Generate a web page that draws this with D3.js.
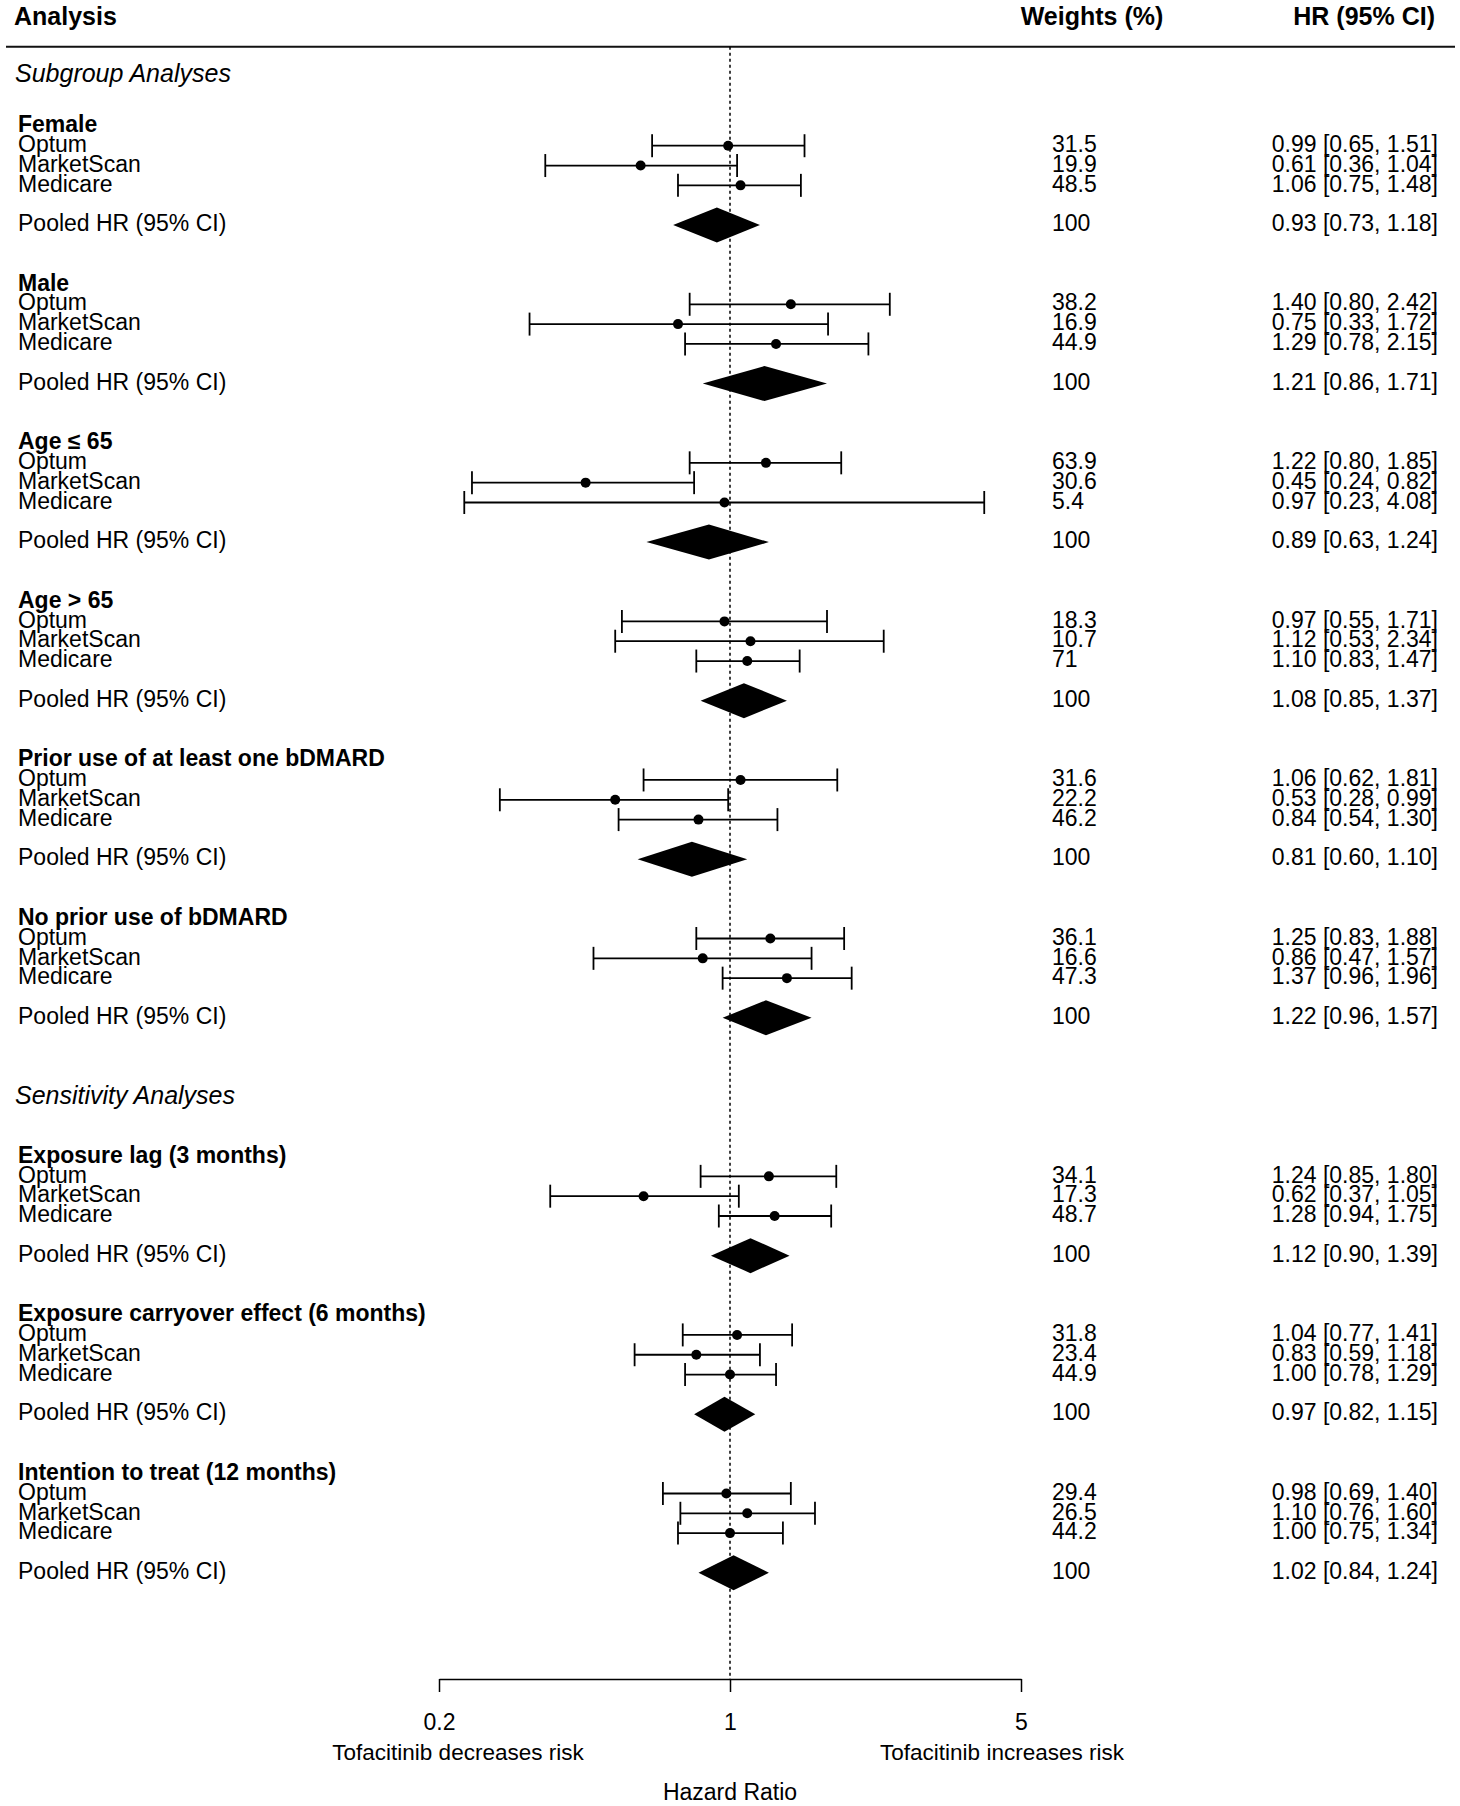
<!DOCTYPE html>
<style>
  body { margin: 0; background: #fff; }
  svg text { font-family: "Liberation Sans", Arial, sans-serif; fill: #000; }
</style>
<body>
<svg id="chart" width="1460" height="1806"></svg>
<script src="https://cdnjs.cloudflare.com/ajax/libs/d3/7.8.5/d3.min.js"></script>
<script>
  const studies = ['Optum', 'MarketScan', 'Medicare']

  const groups = [
    'Female', 'Male', 'Age \u2264 65', 'Age > 65',
    'Prior use of at least one bDMARD', 'No prior use of bDMARD',
    'Exposure lag (3 months)', 'Exposure carryover effect (6 months)',
    'Intention to treat (12 months)'
  ]
  // row of each group header
  const groupRows = [0, 8, 16, 24, 32, 40, 52, 60, 68]

  const sections = ['Subgroup Analyses', 'Sensitivity Analyses']
  const sectionRows = [-2.55, 49]

  // per group: [Optum, MarketScan, Medicare]
  const hr = [
    [0.99, 0.61, 1.06], [1.40, 0.75, 1.29], [1.22, 0.45, 0.97],
    [0.97, 1.12, 1.10], [1.06, 0.53, 0.84], [1.25, 0.86, 1.37],
    [1.24, 0.62, 1.28], [1.04, 0.83, 1.00], [0.98, 1.10, 1.00]
  ]
  const lower = [
    [0.65, 0.36, 0.75], [0.80, 0.33, 0.78], [0.80, 0.24, 0.23],
    [0.55, 0.53, 0.83], [0.62, 0.28, 0.54], [0.83, 0.47, 0.96],
    [0.85, 0.37, 0.94], [0.77, 0.59, 0.78], [0.69, 0.76, 0.75]
  ]
  const upper = [
    [1.51, 1.04, 1.48], [2.42, 1.72, 2.15], [1.85, 0.82, 4.08],
    [1.71, 2.34, 1.47], [1.81, 0.99, 1.30], [1.88, 1.57, 1.96],
    [1.80, 1.05, 1.75], [1.41, 1.18, 1.29], [1.40, 1.60, 1.34]
  ]
  const weights = [
    ['31.5', '19.9', '48.5'], ['38.2', '16.9', '44.9'], ['63.9', '30.6', '5.4'],
    ['18.3', '10.7', '71'], ['31.6', '22.2', '46.2'], ['36.1', '16.6', '47.3'],
    ['34.1', '17.3', '48.7'], ['31.8', '23.4', '44.9'], ['29.4', '26.5', '44.2']
  ]
  const pooledHr = [0.93, 1.21, 0.89, 1.08, 0.81, 1.22, 1.12, 0.97, 1.02]
  const pooledLower = [0.73, 0.86, 0.63, 0.85, 0.60, 0.96, 0.90, 0.82, 0.84]
  const pooledUpper = [1.18, 1.71, 1.24, 1.37, 1.10, 1.57, 1.39, 1.15, 1.24]

  const ticks = [0.2, 1, 5]

  const svg = d3.select('#chart')
  const x = d3.scaleLog().domain([0.2, 5]).range([439, 1021])
  const y = d3.scaleLinear().domain([0, 1]).range([125.9, 145.72])

  const fmt = d3.format('.2f')
  const ciText = (e, l, u) => `${fmt(e)} [${fmt(l)}, ${fmt(u)}]`
  const DY = '.27em'

  // flat study rows
  const rows = []
  groups.forEach((g, gi) => {
    studies.forEach((s, si) => {
      rows.push({ label: s, row: groupRows[gi] + 1 + si, est: hr[gi][si],
        lo: lower[gi][si], hi: upper[gi][si], w: weights[gi][si] })
    })
  })
  const pooled = groups.map((g, gi) => ({ row: groupRows[gi] + 5,
    est: pooledHr[gi], lo: pooledLower[gi], hi: pooledUpper[gi] }))

  const axisY = 1679

  // header
  svg.append('text').attr('x', 14).attr('y', 16).attr('dy', '.35em')
    .style('font-size', '25px').style('font-weight', 'bold').text('Analysis')
  svg.append('text').attr('x', 1092).attr('y', 16).attr('dy', '.35em')
    .attr('text-anchor', 'middle')
    .style('font-size', '25px').style('font-weight', 'bold').text('Weights (%)')
  svg.append('text').attr('x', 1435).attr('y', 16).attr('dy', '.35em')
    .attr('text-anchor', 'end')
    .style('font-size', '25px').style('font-weight', 'bold').text('HR (95% CI)')
  svg.append('line').attr('x1', 6).attr('x2', 1455).attr('y1', 46.7).attr('y2', 46.7)
    .attr('stroke', '#111').attr('stroke-width', 2)

  // reference line at HR = 1
  svg.append('line').attr('x1', x(1)).attr('x2', x(1)).attr('y1', 46.7).attr('y2', axisY)
    .attr('stroke', '#000').attr('stroke-width', 1.5).attr('stroke-dasharray', '3,3')

  // section and group labels
  svg.selectAll('.section').data(sections).enter().append('text')
    .attr('x', 15).attr('y', (d, i) => y(sectionRows[i])).attr('dy', DY)
    .style('font-size', '25px').style('font-style', 'italic').text(d => d)

  svg.selectAll('.group').data(groups).enter().append('text')
    .attr('x', 18).attr('y', (d, i) => y(groupRows[i])).attr('dy', DY)
    .style('font-size', '23px').style('font-weight', 'bold').text(d => d)

  // study rows
  const r = svg.selectAll('.study').data(rows).enter().append('g')
  r.append('text').attr('x', 18).attr('y', d => y(d.row)).attr('dy', DY)
    .style('font-size', '23px').text(d => d.label)
  r.append('line').attr('x1', d => x(d.lo)).attr('x2', d => x(d.hi))
    .attr('y1', d => y(d.row)).attr('y2', d => y(d.row))
    .attr('stroke', '#000').attr('stroke-width', 1.8)
  r.append('line').attr('x1', d => x(d.lo)).attr('x2', d => x(d.lo))
    .attr('y1', d => y(d.row) - 11.5).attr('y2', d => y(d.row) + 11.5)
    .attr('stroke', '#000').attr('stroke-width', 1.8)
  r.append('line').attr('x1', d => x(d.hi)).attr('x2', d => x(d.hi))
    .attr('y1', d => y(d.row) - 11.5).attr('y2', d => y(d.row) + 11.5)
    .attr('stroke', '#000').attr('stroke-width', 1.8)
  r.append('circle').attr('cx', d => x(d.est)).attr('cy', d => y(d.row)).attr('r', 5)
  r.append('text').attr('x', 1052).attr('y', d => y(d.row)).attr('dy', DY)
    .style('font-size', '23px').text(d => d.w)
  r.append('text').attr('x', 1438).attr('y', d => y(d.row)).attr('dy', DY)
    .attr('text-anchor', 'end').style('font-size', '23px')
    .text(d => ciText(d.est, d.lo, d.hi))

  // pooled rows
  const p = svg.selectAll('.pooled').data(pooled).enter().append('g')
  p.append('text').attr('x', 18).attr('y', d => y(d.row)).attr('dy', DY)
    .style('font-size', '23px').text('Pooled HR (95% CI)')
  p.append('path').attr('fill', '#000')
    .attr('d', d => {
      const yy = y(d.row), h = 17.5
      return `M${x(d.lo)},${yy}L${x(d.est)},${yy - h}L${x(d.hi)},${yy}L${x(d.est)},${yy + h}Z`
    })
  p.append('text').attr('x', 1052).attr('y', d => y(d.row)).attr('dy', DY)
    .style('font-size', '23px').text('100')
  p.append('text').attr('x', 1438).attr('y', d => y(d.row)).attr('dy', DY)
    .attr('text-anchor', 'end').style('font-size', '23px')
    .text(d => ciText(d.est, d.lo, d.hi))

  // x axis
  const axis = svg.append('g').attr('transform', `translate(0,${axisY})`)
    .call(d3.axisBottom(x).tickValues(ticks).tickFormat(d3.format('~g'))
      .tickSize(13).tickSizeOuter(0).tickPadding(22))
  axis.select('.domain').attr('stroke-width', 1.5)
  axis.selectAll('.tick line').attr('stroke-width', 1.5)
  axis.selectAll('.tick text').style('font-size', '23px')
    .style('font-family', '"Liberation Sans", Arial, sans-serif')

  svg.append('text').attr('x', 458).attr('y', 1752).attr('dy', '.35em')
    .attr('text-anchor', 'middle').style('font-size', '22.5px')
    .text('Tofacitinib decreases risk')
  svg.append('text').attr('x', 1002).attr('y', 1752).attr('dy', '.35em')
    .attr('text-anchor', 'middle').style('font-size', '22.5px')
    .text('Tofacitinib increases risk')
  svg.append('text').attr('x', x(1)).attr('y', 1792).attr('dy', '.35em')
    .attr('text-anchor', 'middle').style('font-size', '23px')
    .text('Hazard Ratio')
</script>
</body>
